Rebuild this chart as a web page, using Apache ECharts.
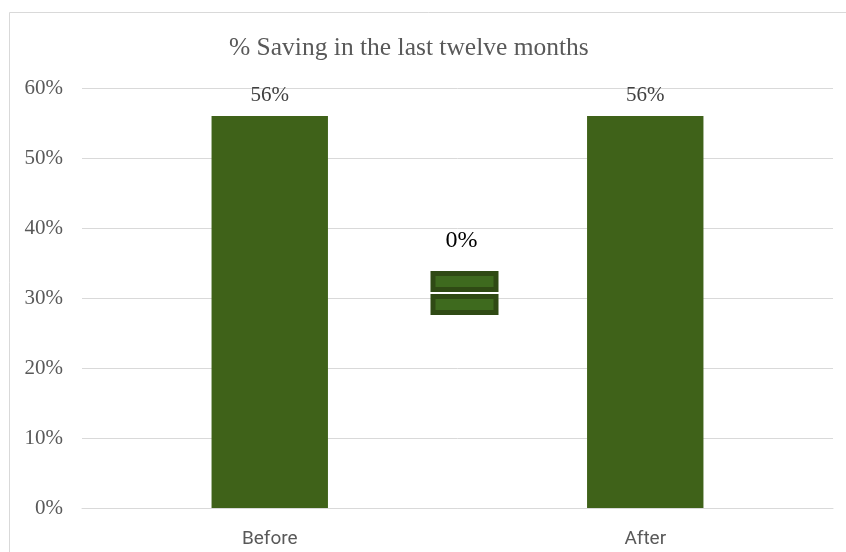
<!DOCTYPE html>
<html>
<head>
<meta charset="utf-8">
<script src="https://cdn.jsdelivr.net/npm/echarts@6/dist/echarts.min.js"></script>
<style>
  html, body { margin: 0; padding: 0; background: #ffffff; }
  #chart { width: 846px; height: 552px; }
</style>
</head>
<body>
<div id="chart"></div>
<script>
// Share of respondents saving, before and after
const categories = ['Before', 'After'];
const savingShare = [56, 56];
// Change between the two periods
const changeShare = [0];
// Value axis ticks (percent)
const yTicks = [0, 10, 20, 30, 40, 50, 60];

const serif = '"Liberation Serif", "Times New Roman", serif';
const sans = 'Roboto, "Liberation Sans", Arial, sans-serif';
const barGreen = '#3f6219';

const chart = echarts.init(document.getElementById('chart'), null, { renderer: 'canvas' });

chart.setOption({
  animation: false,
  backgroundColor: '#ffffff',
  title: {
    text: '% Saving in the last twelve months',
    left: 224,
    top: 30,
    textStyle: { fontFamily: serif, fontSize: 25.5, fontWeight: 'normal', color: '#595959' }
  },
  grid: { left: 82, right: 13, top: 88, bottom: 44, containLabel: false },
  xAxis: {
    type: 'category',
    data: categories,
    axisLine: { lineStyle: { color: '#d9d9d9', width: 1 } },
    axisTick: { show: false },
    axisLabel: { margin: 22, fontFamily: sans, fontSize: 19, color: '#595959' }
  },
  yAxis: {
    type: 'value',
    min: yTicks[0],
    max: yTicks[yTicks.length - 1],
    interval: yTicks[1] - yTicks[0],
    axisLine: { show: false },
    axisTick: { show: false },
    axisLabel: { margin: 19, padding: [4, 0, 0, 0], formatter: '{value}%', fontFamily: serif, fontSize: 21, color: '#595959' },
    splitLine: { lineStyle: { color: '#d9d9d9', width: 1 } }
  },
  series: [{
    type: 'bar',
    data: savingShare,
    barWidth: '31%',
    itemStyle: { color: barGreen },
    label: {
      show: true,
      position: 'top',
      distance: 10,
      formatter: p => p.value + '%',
      fontFamily: serif,
      fontSize: 21,
      color: '#404040'
    }
  }]
});

// Equals sign between the two bars, with the change figure above it
function drawEquals() {
  const left = chart.convertToPixel({ xAxisIndex: 0 }, categories[0]);
  const right = chart.convertToPixel({ xAxisIndex: 0 }, categories[1]);
  const cx = (left + right) / 2 + 7;
  const cy = chart.convertToPixel({ yAxisIndex: 0 }, 30.7);
  const w = 68, h = 21, gap = 2;
  const outer = '#2f4a14', inner = '#3e6a1e';
  const bar = (y) => ([
    { type: 'rect', shape: { x: cx - w / 2, y: y, width: w, height: h }, style: { fill: outer } },
    { type: 'rect', shape: { x: cx - w / 2 + 5, y: y + 5, width: w - 10, height: h - 10 }, style: { fill: inner } }
  ]);
  chart.setOption({
    graphic: [
      { type: 'rect', silent: true, shape: { x: 9.5, y: 12.5, width: 900, height: 600 },
        style: { fill: 'none', stroke: '#d9d9d9', lineWidth: 1 } },
      ...bar(cy - h - gap / 2),
      ...bar(cy + gap / 2),
      { type: 'text', x: cx - 3, y: cy - 52,
        style: { text: changeShare[0] + '%', fontFamily: serif, fontSize: 24, fill: '#000000',
                 align: 'center', verticalAlign: 'middle' } }
    ]
  });
}
drawEquals();
</script>
</body>
</html>
